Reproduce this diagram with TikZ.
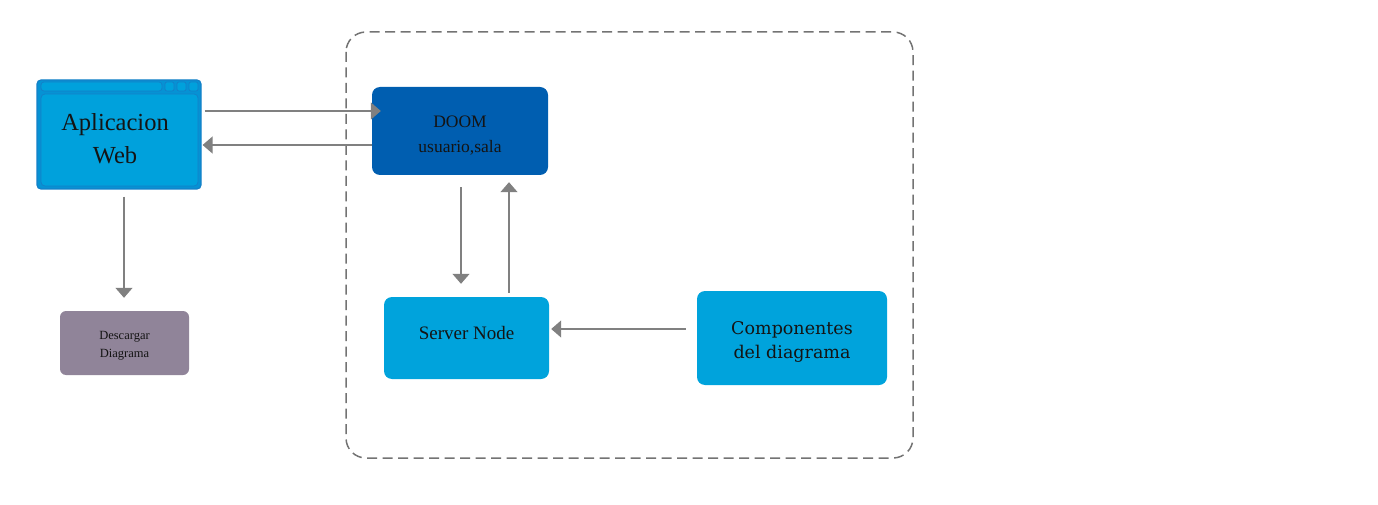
\documentclass[tikz,border=0pt]{standalone}
\usepackage{fontspec}
\setmainfont{Liberation Serif}
\newfontfamily\compfont{DejaVu Serif}
\usetikzlibrary{arrows.meta}
\definecolor{appblue}{RGB}{0,161,220}
\definecolor{appframe}{RGB}{6,146,212}
\definecolor{appedge}{RGB}{20,128,200}
\definecolor{doomblue}{RGB}{0,94,176}
\definecolor{srvblue}{RGB}{0,163,220}
\definecolor{descfill}{RGB}{144,132,153}
\definecolor{arrgray}{RGB}{128,128,128}
\definecolor{txt}{RGB}{20,20,20}
\begin{document}
\begin{tikzpicture}[x=1pt,y=-1pt,
  box/.style={rounded corners=8pt, inner sep=0pt},
  lbl/.style={inner sep=0pt, align=center, text=txt},
  arr/.style={draw=arrgray, line width=1.4pt, -{Triangle[width=17pt,length=10pt]}},
]
\useasboundingbox (0,0) rectangle (1378,505);
% container
\draw[draw=black!55, line width=1.5pt, dash pattern=on 10pt off 5.5pt, rounded corners=20pt]
  (346,32) rectangle (913,458);
% Aplicacion Web window
\node[box, fill=appframe, draw=appedge, line width=1.2pt, rounded corners=4pt,
  minimum width=164pt, minimum height=109pt] (app) at (119,134.5) {};
\draw[fill=appblue, draw=appedge, line width=0.7pt, rounded corners=3pt] (41,82) rectangle (162,91);
\draw[fill=appblue, draw=appedge, line width=0.7pt, rounded corners=2pt] (165,82) rectangle (174,91);
\draw[fill=appblue, draw=appedge, line width=0.7pt, rounded corners=2pt] (177,82) rectangle (186,91);
\draw[fill=appblue, draw=appedge, line width=0.7pt, rounded corners=2pt] (189,82) rectangle (198,91);
\draw[fill=appblue, draw=appedge, line width=0.7pt, rounded corners=4pt] (41,94) rectangle (198,186);
\node[lbl, font=\fontsize{24.5}{33}\selectfont] (appt) at (115,139) {Aplicacion\\Web};
% DOOM
\node[box, fill=doomblue, minimum width=176pt, minimum height=88pt] (doom) at (460,131) {};
\node[lbl, font=\fontsize{17.5}{25}\selectfont] (doomt) at ([yshift=-5pt]doom.center) {DOOM\\usuario,sala};
% Server Node
\node[box, fill=srvblue, minimum width=165pt, minimum height=82pt] (srv) at (466.5,338) {};
\node[lbl, font=\fontsize{19}{24}\selectfont] (srvt) at ([yshift=5pt]srv.center) {Server Node};
% Componentes
\node[box, fill=srvblue, minimum width=190pt, minimum height=94pt] (comp) at (792,338) {};
\node[lbl, font=\compfont\fontsize{17.5}{24}\selectfont] (compt) at ([yshift=-4pt]comp.center) {Componentes\\del diagrama};
% Descargar
\node[box, fill=descfill, rounded corners=6pt, minimum width=129pt, minimum height=64pt] (desc) at (124.5,343) {};
\node[lbl, font=\fontsize{12.5}{18}\selectfont] (desct) at ([yshift=-3pt]desc.center) {Descargar\\Diagrama};
% arrows
\draw[arr, shorten <=3pt, shorten >=-9pt] ([yshift=23.5pt]app.east) -- ([yshift=23.5pt]app.east -| doom.west);
\draw[arr, shorten >=1pt] ([yshift=-14pt]doom.west) -- ([yshift=-14pt]doom.west -| app.east);
\draw[arr, shorten <=12pt, shorten >=13pt] ([xshift=1pt]doom.south) -- ([xshift=1pt]doom.south |- srv.north);
\draw[arr, shorten <=4pt, shorten >=7pt] ([xshift=42.5pt]srv.north) -- ([xshift=42.5pt]srv.north |- doom.south);
\draw[arr, shorten <=11pt, shorten >=2pt] ([yshift=9pt]comp.west) -- ([yshift=9pt]comp.west -| srv.east);
\draw[arr, shorten <=7pt, shorten >=13pt] ([xshift=5pt]app.south) -- ([xshift=5pt]app.south |- desc.north);
\end{tikzpicture}
\end{document}
